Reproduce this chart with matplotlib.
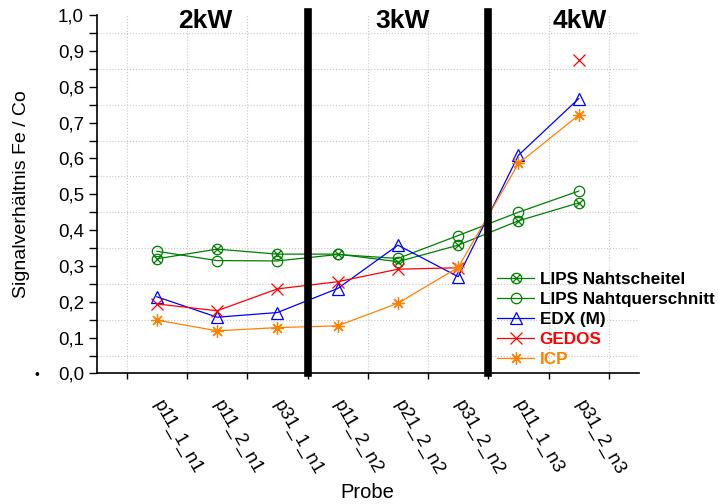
import numpy as np
import matplotlib
matplotlib.use("Agg")
import matplotlib.pyplot as plt
from matplotlib.path import Path
from matplotlib.ticker import MultipleLocator, FixedLocator, FuncFormatter

plt.rcParams['font.family'] = ['Liberation Sans', 'DejaVu Sans']

# Proben und Messwerte (Signalverhaeltnis Fe / Co)
proben = ['p11_1_n1', 'p11_2_n1', 'p31_1_n1', 'p11_2_n2',
          'p21_2_n2', 'p31_2_n2', 'p11_1_n3', 'p31_2_n3']
lips_scheitel = [0.320, 0.347, 0.333, 0.333, 0.312, 0.358, 0.426, 0.476]
lips_querschnitt = [0.341, 0.315, 0.314, 0.332, 0.321, 0.385, 0.450, 0.509]
edx = [0.214, 0.157, 0.170, 0.237, 0.358, 0.270, 0.609, 0.767]
gedos = [0.194, 0.175, 0.236, 0.256, 0.291, 0.295, np.nan, 0.876]
icp = [0.149, 0.119, 0.128, 0.133, 0.196, 0.296, 0.586, 0.721]

leistungen = ['2kW', '3kW', '4kW']
leistung_x = [1.81, 5.08, 8.01]
trennungen = [3.5, 6.5]

# Kreis mit Kreuz als Marker (wie in Origin)
d = 0.707
kreis_x = Path.make_compound_path(
    Path.unit_circle(),
    Path([(-d, -d), (d, d)], [Path.MOVETO, Path.LINETO]),
    Path([(-d, d), (d, -d)], [Path.MOVETO, Path.LINETO]),
)

gruen = '#008000'
x = np.arange(1, len(proben) + 1)

fig = plt.figure(figsize=(7.18, 5.04), dpi=100)
ax = fig.add_axes([0.1345, 0.259, 0.7555, 0.711])

ax.plot(x, lips_scheitel, color=gruen, lw=0.9, marker=kreis_x, ms=7.5,
        mfc='none', mew=0.9, label='LIPS Nahtscheitel')
ax.plot(x, lips_querschnitt, color=gruen, lw=0.9, marker='o', ms=7.5,
        mfc='none', mew=0.9, label='LIPS Nahtquerschnitt')
ax.plot(x, edx, color='#0000ff', lw=0.9, marker='^', ms=8,
        mfc='none', mew=0.9, label='EDX (M)')
ax.plot(x, gedos, color='#ff0000', lw=0.9, marker='x', ms=8,
        mew=0.9, label='GEDOS')
ax.plot(x, icp, color='#ff8000', lw=0.9, marker=(8, 2, 0), ms=9,
        mew=0.9, label='ICP')

for xs in trennungen:
    ax.axvline(xs, ymin=0, ymax=1.01, color='black', lw=5.5,
               clip_on=False, zorder=5)

for txt, xp in zip(leistungen, leistung_x):
    ax.text(xp, 0.983, txt, ha='center', va='center', fontsize=19,
            fontweight='bold', clip_on=False)

ax.set_xlim(0, 9)
ax.set_ylim(0, 1.0)

ax.set_xticks(x)
ax.set_xticklabels(proben, rotation=-60, ha='left', va='center',
                   rotation_mode='anchor', fontsize=13.5)
ax.xaxis.set_minor_locator(FixedLocator(np.arange(0.5, 9, 1.0)))
ax.tick_params(axis='x', which='major', length=0, pad=20)
ax.tick_params(axis='x', which='minor', direction='out', length=4, width=1)

ax.yaxis.set_major_locator(MultipleLocator(0.1))
ax.yaxis.set_minor_locator(FixedLocator(np.arange(0.05, 1.0, 0.1)))
ax.yaxis.set_major_formatter(FuncFormatter(lambda v, p: f'{v:.1f}'.replace('.', ',')))
ax.tick_params(axis='y', which='both', direction='out', length=6, width=1)
ax.tick_params(axis='y', which='major', labelsize=13.5, pad=3)

ax.grid(True, which='minor', color='#c8c8c8', linestyle=':', lw=0.8)
ax.grid(False, which='major')
ax.set_axisbelow(True)

for s in ['top', 'right']:
    ax.spines[s].set_visible(False)
for s in ['left', 'bottom']:
    ax.spines[s].set_linewidth(1.2)

ax.set_ylabel('Signalverhältnis Fe / Co', fontsize=14, labelpad=20)
ax.set_xlabel('Probe', fontsize=14.5, labelpad=4)

leg = ax.legend(loc='upper left', bbox_to_anchor=(0.738, 0.284), frameon=False,
                borderpad=0, borderaxespad=0, handlelength=2.2,
                handletextpad=0.3, labelspacing=0.29,
                prop={'weight': 'bold', 'size': 12.3})
for t, c in zip(leg.get_texts(), ['black', 'black', 'black', '#ff0000', '#ff8000']):
    t.set_color(c)

fig.text(0.052, 1 - 375 / 504, '•', fontsize=10, ha='center', va='center')

fig.savefig('out.png', dpi=100)
